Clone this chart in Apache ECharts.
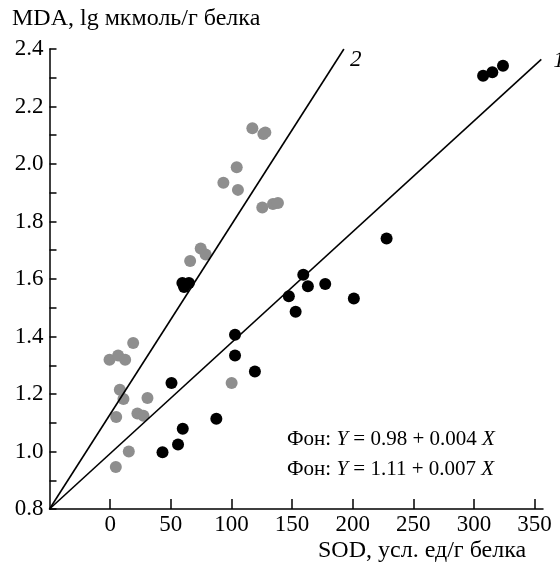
<!DOCTYPE html>
<html>
<head>
<meta charset="utf-8">
<script src="https://cdn.jsdelivr.net/npm/echarts@6/dist/echarts.min.js"></script>
<style>
  html, body { margin: 0; padding: 0; background: #fff; }
  #chart { width: 560px; height: 563px; }
</style>
</head>
<body>
<div id="chart"></div>
<script>
// Gray points (group 2)
const grayX = [-0.5, 6.6, 12.4, 19, 8, 11, 30.8, 5, 22.5, 27.5, 15.4, 4.7, 100.2,
  66, 74.7, 78.8, 117.3, 126.4, 128, 104.4, 93.4, 105.4, 125.5, 134.3, 138.4];
const grayY = [1.319, 1.334, 1.319, 1.377, 1.215, 1.183, 1.186, 1.12, 1.132, 1.124, 1.0, 0.946, 1.238,
  1.663, 1.706, 1.685, 2.124, 2.104, 2.11, 1.989, 1.935, 1.91, 1.849, 1.861, 1.864];

// Black points (group 1)
const blackX = [59.6, 65, 61, 50.6, 103, 103, 119.4, 43.2, 56, 59.9, 87.6,
  147.4, 153, 159.3, 163.1, 177.4, 201, 228, 307.6, 315.2, 324];
const blackY = [1.586, 1.586, 1.572, 1.238, 1.406, 1.334, 1.278, 0.997, 1.024, 1.079, 1.114,
  1.54, 1.486, 1.615, 1.575, 1.583, 1.532, 1.741, 2.307, 2.319, 2.342];

// Regression lines: start and end points
const line1X = [-50, 355.6];
const line1Y = [0.8, 2.364];
const line2X = [-50, 192.8];
const line2Y = [0.8, 2.4];

const xTicks = [0, 50, 100, 150, 200, 250, 300, 350];

const zip = (xs, ys) => xs.map((x, i) => [x, ys[i]]);

const FONT = '"Liberation Serif", "Times New Roman", serif';

const chart = echarts.init(document.getElementById('chart'), null, { renderer: 'canvas' });

chart.setOption({
  animation: false,
  backgroundColor: '#fff',
  textStyle: { fontFamily: FONT },
  grid: { left: 49.5, right: 17, top: 49, bottom: 54, containLabel: false },
  xAxis: {
    type: 'value',
    min: -50,
    max: 357,
    interval: 50,
    splitLine: { show: false },
    axisLine: { onZero: false, lineStyle: { color: '#000', width: 1.5 } },
    axisTick: { inside: true, length: 10, customValues: xTicks, lineStyle: { color: '#000', width: 1.5 } },
    axisLabel: { customValues: xTicks, color: '#000', fontSize: 23, fontFamily: FONT, margin: 4 }
  },
  yAxis: {
    type: 'value',
    min: 0.8,
    max: 2.4,
    interval: 0.2,
    splitLine: { show: false },
    axisLine: { onZero: false, lineStyle: { color: '#000', width: 1.5 } },
    axisTick: { inside: true, length: 7, lineStyle: { color: '#000', width: 1.5 } },
    minorTick: { show: true, splitNumber: 2, length: 7, lineStyle: { color: '#000', width: 1.5 } },
    axisLabel: {
      color: '#000', fontSize: 23, fontFamily: FONT, margin: 6,
      formatter: v => v.toFixed(1)
    }
  },
  series: [
    {
      type: 'line', data: zip(line2X, line2Y), symbol: 'none',
      lineStyle: { color: '#000', width: 1.6 }, z: 3,
      endLabel: { show: true, formatter: '2', fontStyle: 'italic', fontSize: 23, fontFamily: FONT, color: '#000', offset: [-2, 11] }
    },
    {
      type: 'line', data: zip(line1X, line1Y), symbol: 'none',
      lineStyle: { color: '#000', width: 1.6 }, z: 3,
      endLabel: { show: true, formatter: '1', fontStyle: 'italic', fontSize: 23, fontFamily: FONT, color: '#000', offset: [4, 2] }
    },
    {
      type: 'scatter', data: zip(grayX, grayY), symbolSize: 12,
      itemStyle: { color: '#8e8e8e', opacity: 1 }, z: 2
    },
    {
      type: 'scatter', data: zip(blackX, blackY), symbolSize: 12,
      itemStyle: { color: '#000', opacity: 1 }, z: 4
    }
  ],
  graphic: [
    {
      type: 'text', left: 12, top: 7,
      style: { text: 'MDA, lg мкмоль/г белка', font: '24px ' + FONT, fill: '#000' }
    },
    {
      type: 'text', left: 318, top: 539,
      style: { text: 'SOD, усл. ед/г белка', font: '24px ' + FONT, fill: '#000' }
    },
    {
      type: 'text', left: 287, top: 429,
      style: {
        text: '{n|Фон: }{i|Y}{n| = 0.98 + 0.004 }{i|X}',
        rich: {
          n: { fontSize: 21, fontFamily: FONT, fill: '#000' },
          i: { fontSize: 21, fontFamily: FONT, fontStyle: 'italic', fill: '#000' }
        }
      }
    },
    {
      type: 'text', left: 287, top: 459,
      style: {
        text: '{n|Фон: }{i|Y}{n| = 1.11 + 0.007 }{i|X}',
        rich: {
          n: { fontSize: 21, fontFamily: FONT, fill: '#000' },
          i: { fontSize: 21, fontFamily: FONT, fontStyle: 'italic', fill: '#000' }
        }
      }
    }
  ]
});
</script>
</body>
</html>
